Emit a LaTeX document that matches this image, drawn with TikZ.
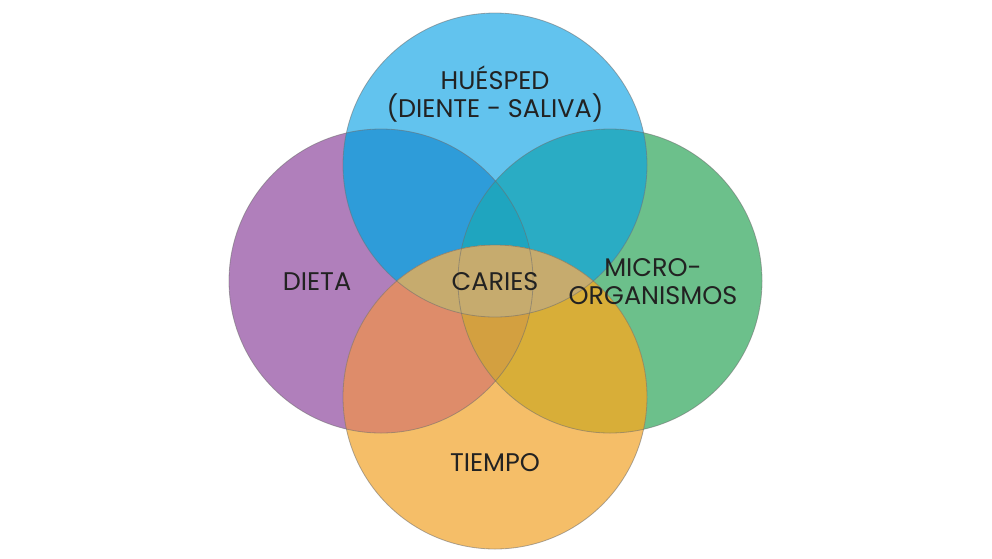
\documentclass[tikz,border=0pt]{standalone}
\usepackage{fontspec}
\setmainfont{Poppins}
\definecolor{cP}{HTML}{B07FBB}
\definecolor{cB}{HTML}{62C3EE}
\definecolor{cG}{HTML}{6CC08B}
\definecolor{cO}{HTML}{F5BE68}
\definecolor{cBP}{HTML}{2E9CD9}
\definecolor{cBG}{HTML}{2AACC4}
\definecolor{cBPG}{HTML}{1FA5BF}
\definecolor{cOP}{HTML}{DE8C6A}
\definecolor{cOG}{HTML}{D8AE38}
\definecolor{cOPG}{HTML}{D3A040}
\definecolor{cOB}{HTML}{C6AB6E}
\definecolor{cEdge}{HTML}{6E6E6E}
\definecolor{cText}{HTML}{222222}
\tikzset{
  lbl/.style={text=cText, font=\fontsize{25.5}{28}\selectfont, align=center, inner sep=0pt},
  rim/.style={draw=cEdge, line width=0.8pt, draw opacity=0.55}
}
\begin{document}
\begin{tikzpicture}[x=1pt,y=-1pt]
\useasboundingbox (0,0) rectangle (992,558);
\def\R{152}
\coordinate (P) at (381,281);
\coordinate (B) at (495,165);
\coordinate (G) at (610,281);
\coordinate (O) at (495,397);
% base circles
\fill[cP] (P) circle (\R);
\fill[cG] (G) circle (\R);
\fill[cB] (B) circle (\R);
\begin{scope}
  \clip (B) circle (\R);
  \fill[cBP] (P) circle (\R);
  \fill[cBG] (G) circle (\R);
  \clip (P) circle (\R);
  \fill[cBPG] (G) circle (\R);
\end{scope}
\fill[cO] (O) circle (\R);
\begin{scope}
  \clip (O) circle (\R);
  \fill[cOP] (P) circle (\R);
  \fill[cOG] (G) circle (\R);
  \begin{scope}
    \clip (P) circle (\R);
    \fill[cOPG] (G) circle (\R);
  \end{scope}
  \fill[cOB] (B) circle (\R);
\end{scope}
% outlines
\draw[rim] (P) circle (\R);
\draw[rim] (G) circle (\R);
\draw[rim] (B) circle (\R);
\draw[rim] (O) circle (\R);
% labels
\node[lbl] (huesped) at (495,94) {HUÉSPED\\(DIENTE - SALIVA)};
\node[lbl] (dieta) at (317,282) {DIETA};
\node[lbl] (caries) at (495,282) {CARIES};
\node[lbl] (micro) at (653,282) {MICRO-\\ORGANISMOS};
\node[lbl] (tiempo) at (495,463) {TIEMPO};
\end{tikzpicture}
\end{document}
